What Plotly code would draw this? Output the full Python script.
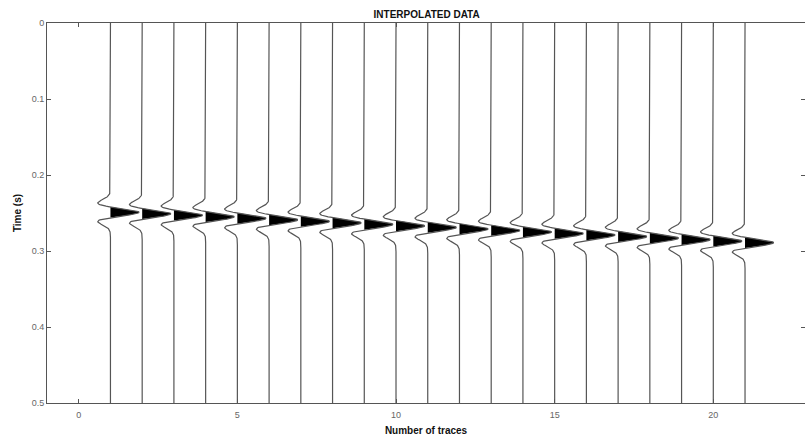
import numpy as np
import plotly.graph_objects as go

# Trace numbers and the arrival time (s) of the wavelet peak on each trace
trace_numbers = list(range(1, 22))
peak_times = [0.249, 0.251, 0.253, 0.255, 0.257, 0.259, 0.261, 0.263, 0.265, 0.267, 0.269,
              0.271, 0.273, 0.275, 0.277, 0.279, 0.281, 0.283, 0.285, 0.287, 0.289]
peak_freq_hz = 32.0        # Ricker wavelet dominant frequency
trace_gain = 0.9           # horizontal deflection of a unit peak, in trace spacings

x_ticks = [0, 5, 10, 15, 20]
y_ticks = [0, 0.1, 0.2, 0.3, 0.4, 0.5]
y_tick_text = ["0", "0.1", "0.2", "0.3", "0.4", "0.5"]

dt = 0.0005
t = np.arange(0.0, 0.5 + dt / 2, dt)


def ricker(time, t0, f):
    a = (np.pi * f * (time - t0)) ** 2
    return (1.0 - 2.0 * a) * np.exp(-a)


fig = go.Figure()

for xi, t0 in zip(trace_numbers, peak_times):
    w = ricker(t, t0, peak_freq_hz) * trace_gain
    pos = np.clip(w, 0, None)
    mask = pos > 0
    tp = t[mask]
    xp = xi + pos[mask]
    # black fill of the positive lobe
    fx = np.concatenate([[xi], xp, [xi]])
    fy = np.concatenate([[tp[0]], tp, [tp[-1]]])
    fig.add_trace(go.Scatter(x=fx, y=fy, mode="lines", fill="toself",
                             fillcolor="black", line=dict(width=0, color="black"),
                             hoverinfo="skip", showlegend=False))
    # wiggle line
    fig.add_trace(go.Scatter(x=xi + w, y=t, mode="lines",
                             line=dict(color="#555555", width=1.2),
                             hoverinfo="skip", showlegend=False))

FONT = "Liberation Sans, Arial, sans-serif"
axis_common = dict(
    showline=True, linecolor="#555", linewidth=1, mirror="ticks",
    ticks="inside", ticklen=4, tickcolor="#555", showgrid=False, zeroline=False,
    tickfont=dict(family=FONT, size=9, color="#666"),
)

fig.update_layout(
    width=805, height=437,
    margin=dict(l=47, r=0, t=23, b=34),
    paper_bgcolor="white", plot_bgcolor="white",
    title=dict(text="<b>INTERPOLATED DATA</b>", x=0.53, xanchor="center",
               y=1 - 14 / 437, yref="container", yanchor="middle",
               font=dict(family=FONT, size=10, color="#111")),
    xaxis=dict(range=[-1, 22.89], tickvals=x_ticks, ticktext=[str(v) for v in x_ticks],
               ticklabelstandoff=3,
               title=dict(text="<b>Number of traces</b>", standoff=8,
                          font=dict(family=FONT, size=10, color="#111")),
               **axis_common),
    yaxis=dict(range=[0.5, 0], tickvals=y_ticks, ticktext=y_tick_text,
               title=dict(text="<b>Time (s)</b>", standoff=8,
                          font=dict(family=FONT, size=10, color="#111")),
               **axis_common),
)

fig.write_html("out.html")
